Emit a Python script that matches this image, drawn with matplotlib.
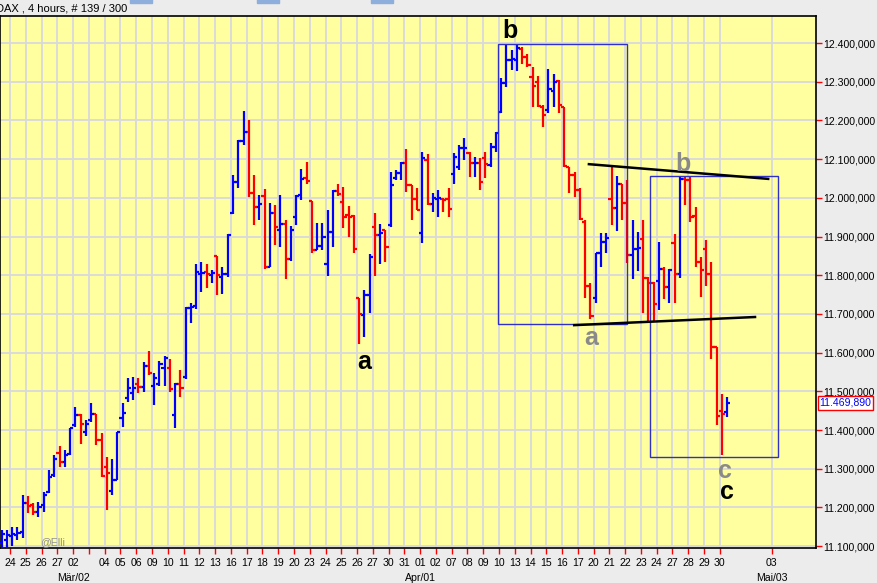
import matplotlib
matplotlib.use("Agg")
import matplotlib.pyplot as plt
import matplotlib.transforms as mtransforms
from matplotlib.patches import Rectangle
import numpy as np

plt.rcParams['font.family'] = ['Liberation Sans', 'DejaVu Sans']

# DAX 4h OHLC bars (index = bar number)
opens = [11110, 11115, 11125, 11128, 11137, 11212, 11207, 11188, 11205, 11240,
         11285, 11340, 11318, 11338, 11412, 11439, 11395, 11425, 11441, 11374,
         11305, 11242, 11270, 11431, 11483, 11495, 11520, 11512, 11565, 11515,
         11520, 11560, 11560, 11440, 11518, 11536, 11716, 11720, 11803, 11809,
         11800, 11850, 11796, 11803, 11961, 12042, 12146, 12169, 12012, 11977,
         12006, 11822, 11962, 11917, 11933, 11843, 11950, 12007, 12052, 11991,
         11866, 11875, 11829, 11912, 12017, 11990, 11955, 11952, 11740, 11697,
         11749, 11924, 11904, 11918, 11929, 12050, 12063, 12089, 12033, 11996,
         11908, 12099, 11985, 11996, 11996, 11996, 12061, 12080, 12128, 12115,
         12089, 12089, 12104, 12085, 12132, 12222, 12296, 12356, 12356, 12384,
         12365, 12311, 12300, 12234, 12227, 12275, 12303, 12234, 12080, 12059,
         12020, 11938, 11771, 11740, 11857, 11887, 11996, 11973, 12037, 11986,
         11852, 11868, 11893, 11792, 11781, 11786, 11815, 11769, 11884, 11803,
         12048, 12046, 11953, 11835, 11869, 11803, 11614, 11450, 11446]
highs = [11142, 11142, 11150, 11150, 11232, 11229, 11211, 11215, 11241, 11297,
         11335, 11359, 11348, 11404, 11460, 11441, 11426, 11469, 11441, 11391,
         11331, 11324, 11396, 11470, 11534, 11538, 11534, 11576, 11603, 11547,
         11578, 11590, 11584, 11521, 11555, 11719, 11727, 11829, 11835, 11829,
         11813, 11850, 11821, 11906, 12059, 12149, 12225, 12201, 12059, 12007,
         12022, 11986, 11981, 12007, 11944, 11927, 12007, 12074, 12092, 11993,
         11936, 11936, 11968, 12020, 12036, 12027, 11979, 11956, 11740, 11762,
         11855, 11960, 11933, 11918, 12067, 12072, 12093, 12126, 12033, 12025,
         12118, 12112, 12012, 12020, 11999, 12025, 12117, 12136, 12154, 12119,
         12106, 12102, 12119, 12141, 12171, 12309, 12395, 12382, 12395, 12389,
         12373, 12339, 12314, 12240, 12332, 12320, 12304, 12234, 12080, 12067,
         12025, 11943, 11779, 11857, 11908, 11908, 12080, 12056, 12037, 12046,
         11944, 11912, 11944, 11795, 11783, 11887, 11822, 11815, 11906, 12055,
         12055, 12055, 11977, 11846, 11891, 11835, 11614, 11493, 11486]
lows = [11090, 11095, 11100, 11116, 11120, 11186, 11180, 11176, 11189, 11237,
        11279, 11304, 11304, 11335, 11409, 11363, 11384, 11421, 11361, 11279,
        11193, 11232, 11270, 11409, 11472, 11478, 11496, 11499, 11542, 11465,
        11514, 11514, 11498, 11405, 11485, 11533, 11676, 11714, 11757, 11766,
        11781, 11749, 11751, 11796, 11958, 12025, 12136, 12003, 11930, 11943,
        11815, 11822, 11878, 11874, 11789, 11837, 11930, 11994, 12037, 11858,
        11865, 11865, 11799, 11872, 12005, 11921, 11900, 11858, 11622, 11640,
        11703, 11799, 11830, 11835, 11925, 12046, 12046, 12016, 11943, 11968,
        11882, 11981, 11964, 11951, 11964, 11951, 12037, 12072, 12098, 12055,
        12055, 12020, 12050, 12079, 12119, 12218, 12287, 12330, 12328, 12347,
        12339, 12234, 12234, 12184, 12218, 12235, 12218, 12080, 12013, 12003,
        11943, 11740, 11688, 11729, 11822, 11857, 11930, 11915, 11943, 11831,
        11789, 11812, 11702, 11680, 11680, 11710, 11738, 11727, 11729, 11792,
        11981, 11938, 11822, 11744, 11772, 11583, 11413, 11335, 11433]
closes = [11130, 11129, 11131, 11133, 11211, 11203, 11189, 11200, 11232, 11278,
          11325, 11318, 11335, 11404, 11439, 11415, 11415, 11441, 11374, 11282,
          11290, 11270, 11395, 11445, 11508, 11508, 11512, 11565, 11547, 11535,
          11570, 11585, 11507, 11518, 11508, 11716, 11718, 11809, 11806, 11803,
          11806, 11800, 11803, 11904, 12042, 12146, 12171, 12012, 11977, 11985,
          11822, 11962, 11925, 11933, 11843, 11917, 12005, 12048, 12044, 11865,
          11875, 11900, 11912, 12017, 12010, 11951, 11950, 11869, 11700, 11749,
          11848, 11905, 11910, 11872, 12033, 12063, 12091, 12033, 11996, 11968,
          12102, 11985, 11999, 11999, 11995, 11970, 12106, 12128, 12129, 12089,
          12090, 12042, 12087, 12132, 12168, 12296, 12356, 12358, 12386, 12365,
          12343, 12290, 12237, 12215, 12280, 12300, 12240, 12082, 12059, 12020,
          11945, 11772, 11695, 11857, 11887, 11895, 11973, 12037, 11986, 11852,
          11867, 11870, 11792, 11781, 11726, 11815, 11769, 11813, 11803, 12048,
          12045, 11950, 11835, 11813, 11803, 11614, 11436, 11442, 11469.89]

# date axis: day labels and their day index (3 bars per day)
day_labels = ['24', '25', '26', '27', '02', '', '04', '05', '06', '09', '10', '11', '12',
              '13', '16', '17', '18', '19', '20', '23', '24', '25', '26', '27', '30',
              '31', '01', '02', '07', '08', '09', '10', '13', '14', '15', '16', '17',
              '20', '21', '22', '23', '24', '27', '28', '29', '30', '03']
day_index = [0, 1, 2, 3, 4, 5, 6, 7, 8, 9, 10, 11, 12, 13, 14, 15, 16, 17, 18, 19, 20,
             21, 22, 23, 24, 25, 26, 27, 28, 29, 30, 31, 32, 33, 34, 35, 36, 37, 38,
             39, 40, 41, 42, 43, 44, 45, 48.3]
month_labels = ['Mär/02', 'Apr/01', 'Mai/03']
month_day = [4, 26, 48.3]

y_ticks = [11100, 11200, 11300, 11400, 11500, 11600, 11700, 11800, 11900,
           12000, 12100, 12200, 12300, 12400]

# wave annotations (label, bar, price, colour)
waves = [('b', 96.7, 12413, 'black'), ('a', 68.9, 11558, 'black'),
         ('b', 129.6, 12069, '#8a8a8a'), ('a', 112.1, 11620, '#8a8a8a'),
         ('c', 137.6, 11276, '#8a8a8a'), ('c', 138.0, 11222, 'black')]
boxes = [(94.4, 11674, 119.0, 12397), (123.3, 11330, 147.7, 12056)]
trend_lines = [((111.7, 145.8), (12087, 12049)), ((108.9, 143.3), (11671, 11692))]

FS = 7.6


def fmt(v):
    s = f"{v:,.3f}"
    return s.replace(',', 'X').replace('.', ',').replace('X', '.')


fig = plt.figure(figsize=(8.78, 5.83), dpi=100)
fig.patch.set_facecolor('#ECECEC')
ax = fig.add_axes([0.0, 0.0600, 0.9294, 0.9126])
ax.set_facecolor('#FFFFA0')

x = np.arange(len(opens))
o = np.array(opens); h = np.array(highs); l = np.array(lows); c = np.array(closes)
cols = np.where(c >= o, '#0000FF', '#FF0000')
tk = 0.6
lw = 1.6
ax.vlines(x, l, h, colors=cols, lw=lw, zorder=3)
ax.hlines(o, x - tk, x, colors=cols, lw=lw, zorder=3)
ax.hlines(c, x, x + tk, colors=cols, lw=lw, zorder=3)

tick_pos = [3.0 * d + 1.6 for d in day_index]
ax.set_xlim(-0.32, 154.9)
ax.set_ylim(11095, 12470)

ax.set_xticks(tick_pos)
ax.set_xticklabels(day_labels, fontsize=FS)
ax.set_yticks(y_ticks)
ax.set_yticklabels([fmt(v) for v in y_ticks], fontsize=FS)
ax.yaxis.tick_right()
ax.tick_params(axis='both', colors='#FF0000', labelcolor='black', length=4, width=1)
ax.tick_params(axis='x', pad=3)
ax.tick_params(axis='y', pad=1)
ax.grid(True, color='#D9D9DC', lw=1.3, zorder=0)
ax.set_axisbelow(True)
for sp in ax.spines.values():
    sp.set_color('black')
    sp.set_linewidth(1.2)

btrans = mtransforms.blended_transform_factory(ax.transData, ax.transAxes)
for lab, d in zip(month_labels, month_day):
    ax.text(3.0 * d + 1.6, -0.056, lab, transform=btrans, ha='center', va='center',
            fontsize=FS, clip_on=False)

for x0, y0, x1, y1 in boxes:
    ax.add_patch(Rectangle((x0, y0), x1 - x0, y1 - y0, fill=False, ec='#3030C8', lw=1, zorder=4))
for xs, ys in trend_lines:
    ax.plot(xs, ys, color='black', lw=1.8, zorder=4)
for lab, bx, by, colr in waves:
    ax.text(bx, by, lab, color=colr, fontsize=18, fontweight='bold', ha='center',
            va='baseline', zorder=5)
ax.text(7.3, 11102, '@Elli', color='#909090', fontsize=FS, ha='left', va='baseline')

ytrans = mtransforms.blended_transform_factory(ax.transAxes, ax.transData)
ax.text(1.004, closes[-1], fmt(closes[-1]), transform=ytrans, color='#0000FF',
        fontsize=FS, ha='left', va='center',
        bbox=dict(boxstyle='square,pad=0.15', fc='white', ec='#FF0000', lw=1))

fig.text(-0.004, 0.985, 'DAX , 4 hours, # 139 / 300', fontsize=FS + 0.4, ha='left', va='center')
for fx in (0.148, 0.293, 0.423):
    fig.patches.append(Rectangle((fx, 0.995), 0.025, 0.01, transform=fig.transFigure,
                                 color='#8EAEDB', figure=fig))

fig.savefig('out.png', dpi=100, facecolor=fig.get_facecolor())
